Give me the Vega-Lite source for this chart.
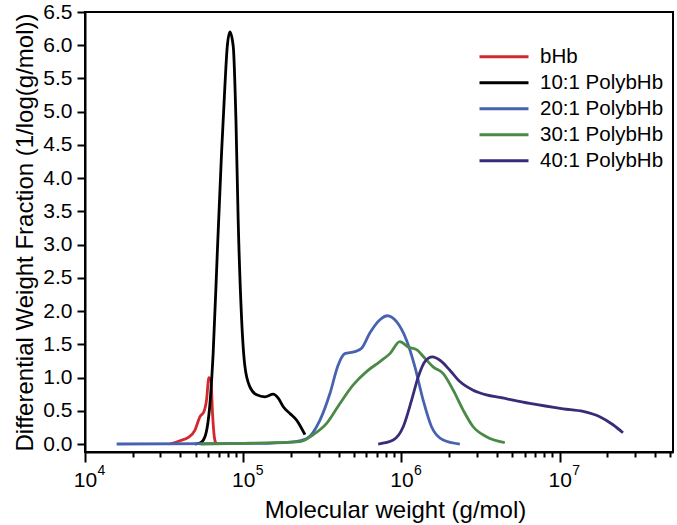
{
  "$schema": "https://vega.github.io/schema/vega-lite/v6.json",
  "width": 588,
  "height": 440,
  "autosize": {"type": "none"},
  "padding": {"left": 85, "top": 12, "right": 4, "bottom": 73},
  "background": "white",
  "config": {
    "font": "Liberation Sans",
    "view": {"stroke": "black", "strokeWidth": 2},
    "axis": {"labelColor": "black", "titleColor": "black", "domainColor": "black", "domainWidth": 2, "tickColor": "black", "tickWidth": 2, "grid": false, "titleFontWeight": "normal", "labelFont": "Liberation Sans", "titleFont": "Liberation Sans"}
  },
  "data": {"values": [
    {"s": "bHb", "M": 34434, "y": 0},
    {"s": "bHb", "M": 39811, "y": 0.05},
    {"s": "bHb", "M": 44978, "y": 0.1},
    {"s": "bHb", "M": 49545, "y": 0.21},
    {"s": "bHb", "M": 53211, "y": 0.41},
    {"s": "bHb", "M": 56494, "y": 0.49},
    {"s": "bHb", "M": 58614, "y": 0.66},
    {"s": "bHb", "M": 60674, "y": 1.0},
    {"s": "bHb", "M": 62517, "y": 0.96},
    {"s": "bHb", "M": 63973, "y": 0.46},
    {"s": "bHb", "M": 65615, "y": 0.11},
    {"s": "bHb", "M": 67143, "y": 0.01},
    {"s": "10:1 PolybHb", "M": 49545, "y": 0},
    {"s": "10:1 PolybHb", "M": 53703, "y": 0.02},
    {"s": "10:1 PolybHb", "M": 57280, "y": 0.11},
    {"s": "10:1 PolybHb", "M": 61660, "y": 0.62},
    {"s": "10:1 PolybHb", "M": 64565, "y": 1.37},
    {"s": "10:1 PolybHb", "M": 68549, "y": 2.87},
    {"s": "10:1 PolybHb", "M": 72946, "y": 4.38},
    {"s": "10:1 PolybHb", "M": 76560, "y": 5.38},
    {"s": "10:1 PolybHb", "M": 79250, "y": 5.98},
    {"s": "10:1 PolybHb", "M": 82414, "y": 6.2},
    {"s": "10:1 PolybHb", "M": 86497, "y": 5.98},
    {"s": "10:1 PolybHb", "M": 89950, "y": 4.87},
    {"s": "10:1 PolybHb", "M": 92897, "y": 3.37},
    {"s": "10:1 PolybHb", "M": 97724, "y": 1.87},
    {"s": "10:1 PolybHb", "M": 102565, "y": 1.16},
    {"s": "10:1 PolybHb", "M": 110154, "y": 0.86},
    {"s": "10:1 PolybHb", "M": 121619, "y": 0.74},
    {"s": "10:1 PolybHb", "M": 137088, "y": 0.71},
    {"s": "10:1 PolybHb", "M": 154882, "y": 0.75},
    {"s": "10:1 PolybHb", "M": 166341, "y": 0.69},
    {"s": "10:1 PolybHb", "M": 179061, "y": 0.56},
    {"s": "10:1 PolybHb", "M": 197242, "y": 0.46},
    {"s": "10:1 PolybHb", "M": 217270, "y": 0.36},
    {"s": "10:1 PolybHb", "M": 245471, "y": 0.14},
    {"s": "20:1 PolybHb", "M": 15849, "y": 0},
    {"s": "20:1 PolybHb", "M": 63096, "y": 0.005},
    {"s": "20:1 PolybHb", "M": 125893, "y": 0.01},
    {"s": "20:1 PolybHb", "M": 199526, "y": 0.03},
    {"s": "20:1 PolybHb", "M": 251189, "y": 0.08},
    {"s": "20:1 PolybHb", "M": 305492, "y": 0.36},
    {"s": "20:1 PolybHb", "M": 353183, "y": 0.76},
    {"s": "20:1 PolybHb", "M": 398107, "y": 1.19},
    {"s": "20:1 PolybHb", "M": 438531, "y": 1.36},
    {"s": "20:1 PolybHb", "M": 508159, "y": 1.39},
    {"s": "20:1 PolybHb", "M": 559758, "y": 1.44},
    {"s": "20:1 PolybHb", "M": 630957, "y": 1.67},
    {"s": "20:1 PolybHb", "M": 731139, "y": 1.87},
    {"s": "20:1 PolybHb", "M": 812831, "y": 1.93},
    {"s": "20:1 PolybHb", "M": 931108, "y": 1.84},
    {"s": "20:1 PolybHb", "M": 1076465, "y": 1.56},
    {"s": "20:1 PolybHb", "M": 1216186, "y": 1.16},
    {"s": "20:1 PolybHb", "M": 1370882, "y": 0.66},
    {"s": "20:1 PolybHb", "M": 1548817, "y": 0.26},
    {"s": "20:1 PolybHb", "M": 1836538, "y": 0.06},
    {"s": "20:1 PolybHb", "M": 2338721, "y": 0.0},
    {"s": "30:1 PolybHb", "M": 53703, "y": 0},
    {"s": "30:1 PolybHb", "M": 100000, "y": 0.01},
    {"s": "30:1 PolybHb", "M": 158489, "y": 0.02},
    {"s": "30:1 PolybHb", "M": 228034, "y": 0.035},
    {"s": "30:1 PolybHb", "M": 276694, "y": 0.14},
    {"s": "30:1 PolybHb", "M": 336512, "y": 0.31},
    {"s": "30:1 PolybHb", "M": 408319, "y": 0.61},
    {"s": "30:1 PolybHb", "M": 495450, "y": 0.89},
    {"s": "30:1 PolybHb", "M": 601174, "y": 1.09},
    {"s": "30:1 PolybHb", "M": 731139, "y": 1.24},
    {"s": "30:1 PolybHb", "M": 845279, "y": 1.36},
    {"s": "30:1 PolybHb", "M": 977237, "y": 1.54},
    {"s": "30:1 PolybHb", "M": 1101539, "y": 1.46},
    {"s": "30:1 PolybHb", "M": 1244515, "y": 1.42},
    {"s": "30:1 PolybHb", "M": 1406048, "y": 1.29},
    {"s": "30:1 PolybHb", "M": 1584893, "y": 1.16},
    {"s": "30:1 PolybHb", "M": 1836538, "y": 1.06},
    {"s": "30:1 PolybHb", "M": 2123244, "y": 0.81},
    {"s": "30:1 PolybHb", "M": 2454709, "y": 0.51},
    {"s": "30:1 PolybHb", "M": 2837919, "y": 0.26},
    {"s": "30:1 PolybHb", "M": 3443499, "y": 0.11},
    {"s": "30:1 PolybHb", "M": 4497798, "y": 0.02},
    {"s": "40:1 PolybHb", "M": 712853, "y": 0},
    {"s": "40:1 PolybHb", "M": 887156, "y": 0.06},
    {"s": "40:1 PolybHb", "M": 1025652, "y": 0.26},
    {"s": "40:1 PolybHb", "M": 1158777, "y": 0.66},
    {"s": "40:1 PolybHb", "M": 1276439, "y": 1.01},
    {"s": "40:1 PolybHb", "M": 1406048, "y": 1.24},
    {"s": "40:1 PolybHb", "M": 1570363, "y": 1.31},
    {"s": "40:1 PolybHb", "M": 1749847, "y": 1.26},
    {"s": "40:1 PolybHb", "M": 2023012, "y": 1.11},
    {"s": "40:1 PolybHb", "M": 2338721, "y": 0.94},
    {"s": "40:1 PolybHb", "M": 2837919, "y": 0.81},
    {"s": "40:1 PolybHb", "M": 3443499, "y": 0.74},
    {"s": "40:1 PolybHb", "M": 4187936, "y": 0.7},
    {"s": "40:1 PolybHb", "M": 6471312, "y": 0.61},
    {"s": "40:1 PolybHb", "M": 10519619, "y": 0.53},
    {"s": "40:1 PolybHb", "M": 14060475, "y": 0.49},
    {"s": "40:1 PolybHb", "M": 17906615, "y": 0.41},
    {"s": "40:1 PolybHb", "M": 21727011, "y": 0.29},
    {"s": "40:1 PolybHb", "M": 25118864, "y": 0.17}
  ]},
  "resolve": {"axis": {"x": "independent"}},
  "layer": [
    {
      "mark": {"type": "line", "interpolate": "monotone", "strokeWidth": 2.8, "clip": true},
      "encoding": {
        "x": {
          "field": "M", "type": "quantitative",
          "scale": {"type": "log", "domain": [10000, 52000000], "nice": false},
          "axis": {
            "orient": "bottom",
            "title": "Molecular weight (g/mol)",
            "titleFontSize": 24,
            "titleX": 310,
            "titleY": 65,
            "titleBaseline": "alphabetic",
            "values": [10000, 20000, 30000, 40000, 50000, 60000, 70000, 80000, 90000, 100000, 200000, 300000, 400000, 500000, 600000, 700000, 800000, 900000, 1000000, 2000000, 3000000, 4000000, 5000000, 6000000, 7000000, 8000000, 9000000, 10000000, 20000000, 30000000, 40000000, 50000000],
            "labelExpr": "abs(log(datum.value)/LN10 - round(log(datum.value)/LN10)) < 0.001 ? '10' : ''",
            "labelFontSize": 21,
            "labelOverlap": false,
            "labelBound": false,
            "labelFlush": false,
            "labelPadding": 7,
            "tickSize": {"condition": {"test": "abs(log(datum.value)/LN10 - round(log(datum.value)/LN10)) < 0.001", "value": 10}, "value": 5}
          }
        },
        "y": {
          "field": "y", "type": "quantitative",
          "scale": {"domain": [-0.12, 6.5], "nice": false, "zero": false},
          "axis": {
            "title": "Differential Weight Fraction (1/log(g/mol))",
            "titleFontSize": 24,
            "titlePadding": 5,
            "values": [0, 0.5, 1, 1.5, 2, 2.5, 3, 3.5, 4, 4.5, 5, 5.5, 6, 6.5],
            "format": ".1f",
            "labelFontSize": 21,
            "labelPadding": 5,
            "labelOverlap": false,
            "tickSize": 8
          }
        },
        "color": {
          "field": "s", "type": "nominal",
          "scale": {
            "domain": ["bHb", "10:1 PolybHb", "20:1 PolybHb", "30:1 PolybHb", "40:1 PolybHb"],
            "range": ["#d3282e", "#000000", "#4763b0", "#4a8a46", "#3a2a78"]
          },
          "legend": {
            "orient": "none",
            "legendX": 393,
            "legendY": 32,
            "title": null,
            "symbolType": "stroke",
            "symbolSize": 2400,
            "symbolStrokeWidth": 3,
            "labelFontSize": 20.5,
            "labelFont": "Liberation Sans",
            "labelColor": "black",
            "labelOffset": 10,
            "clipHeight": 25.5,
            "rowPadding": 0,
            "padding": 0,
            "labelLimit": 300
          }
        }
      }
    },
    {
      "mark": {"type": "rule", "strokeOpacity": 0},
      "encoding": {
        "x": {
          "field": "M", "type": "quantitative",
          "axis": {
            "orient": "bottom",
            "title": null,
            "domain": false,
            "values": [10000, 100000, 1000000, 10000000],
            "labelExpr": "'' + round(log(datum.value)/LN10)",
            "labelFontSize": 14,
            "labelOffset": 16,
            "labelPadding": 1,
            "labelOverlap": false,
            "labelBound": false,
            "labelFlush": false,
            "tickSize": 10,
            "tickOpacity": 0
          }
        }
      }
    }
  ]
}
